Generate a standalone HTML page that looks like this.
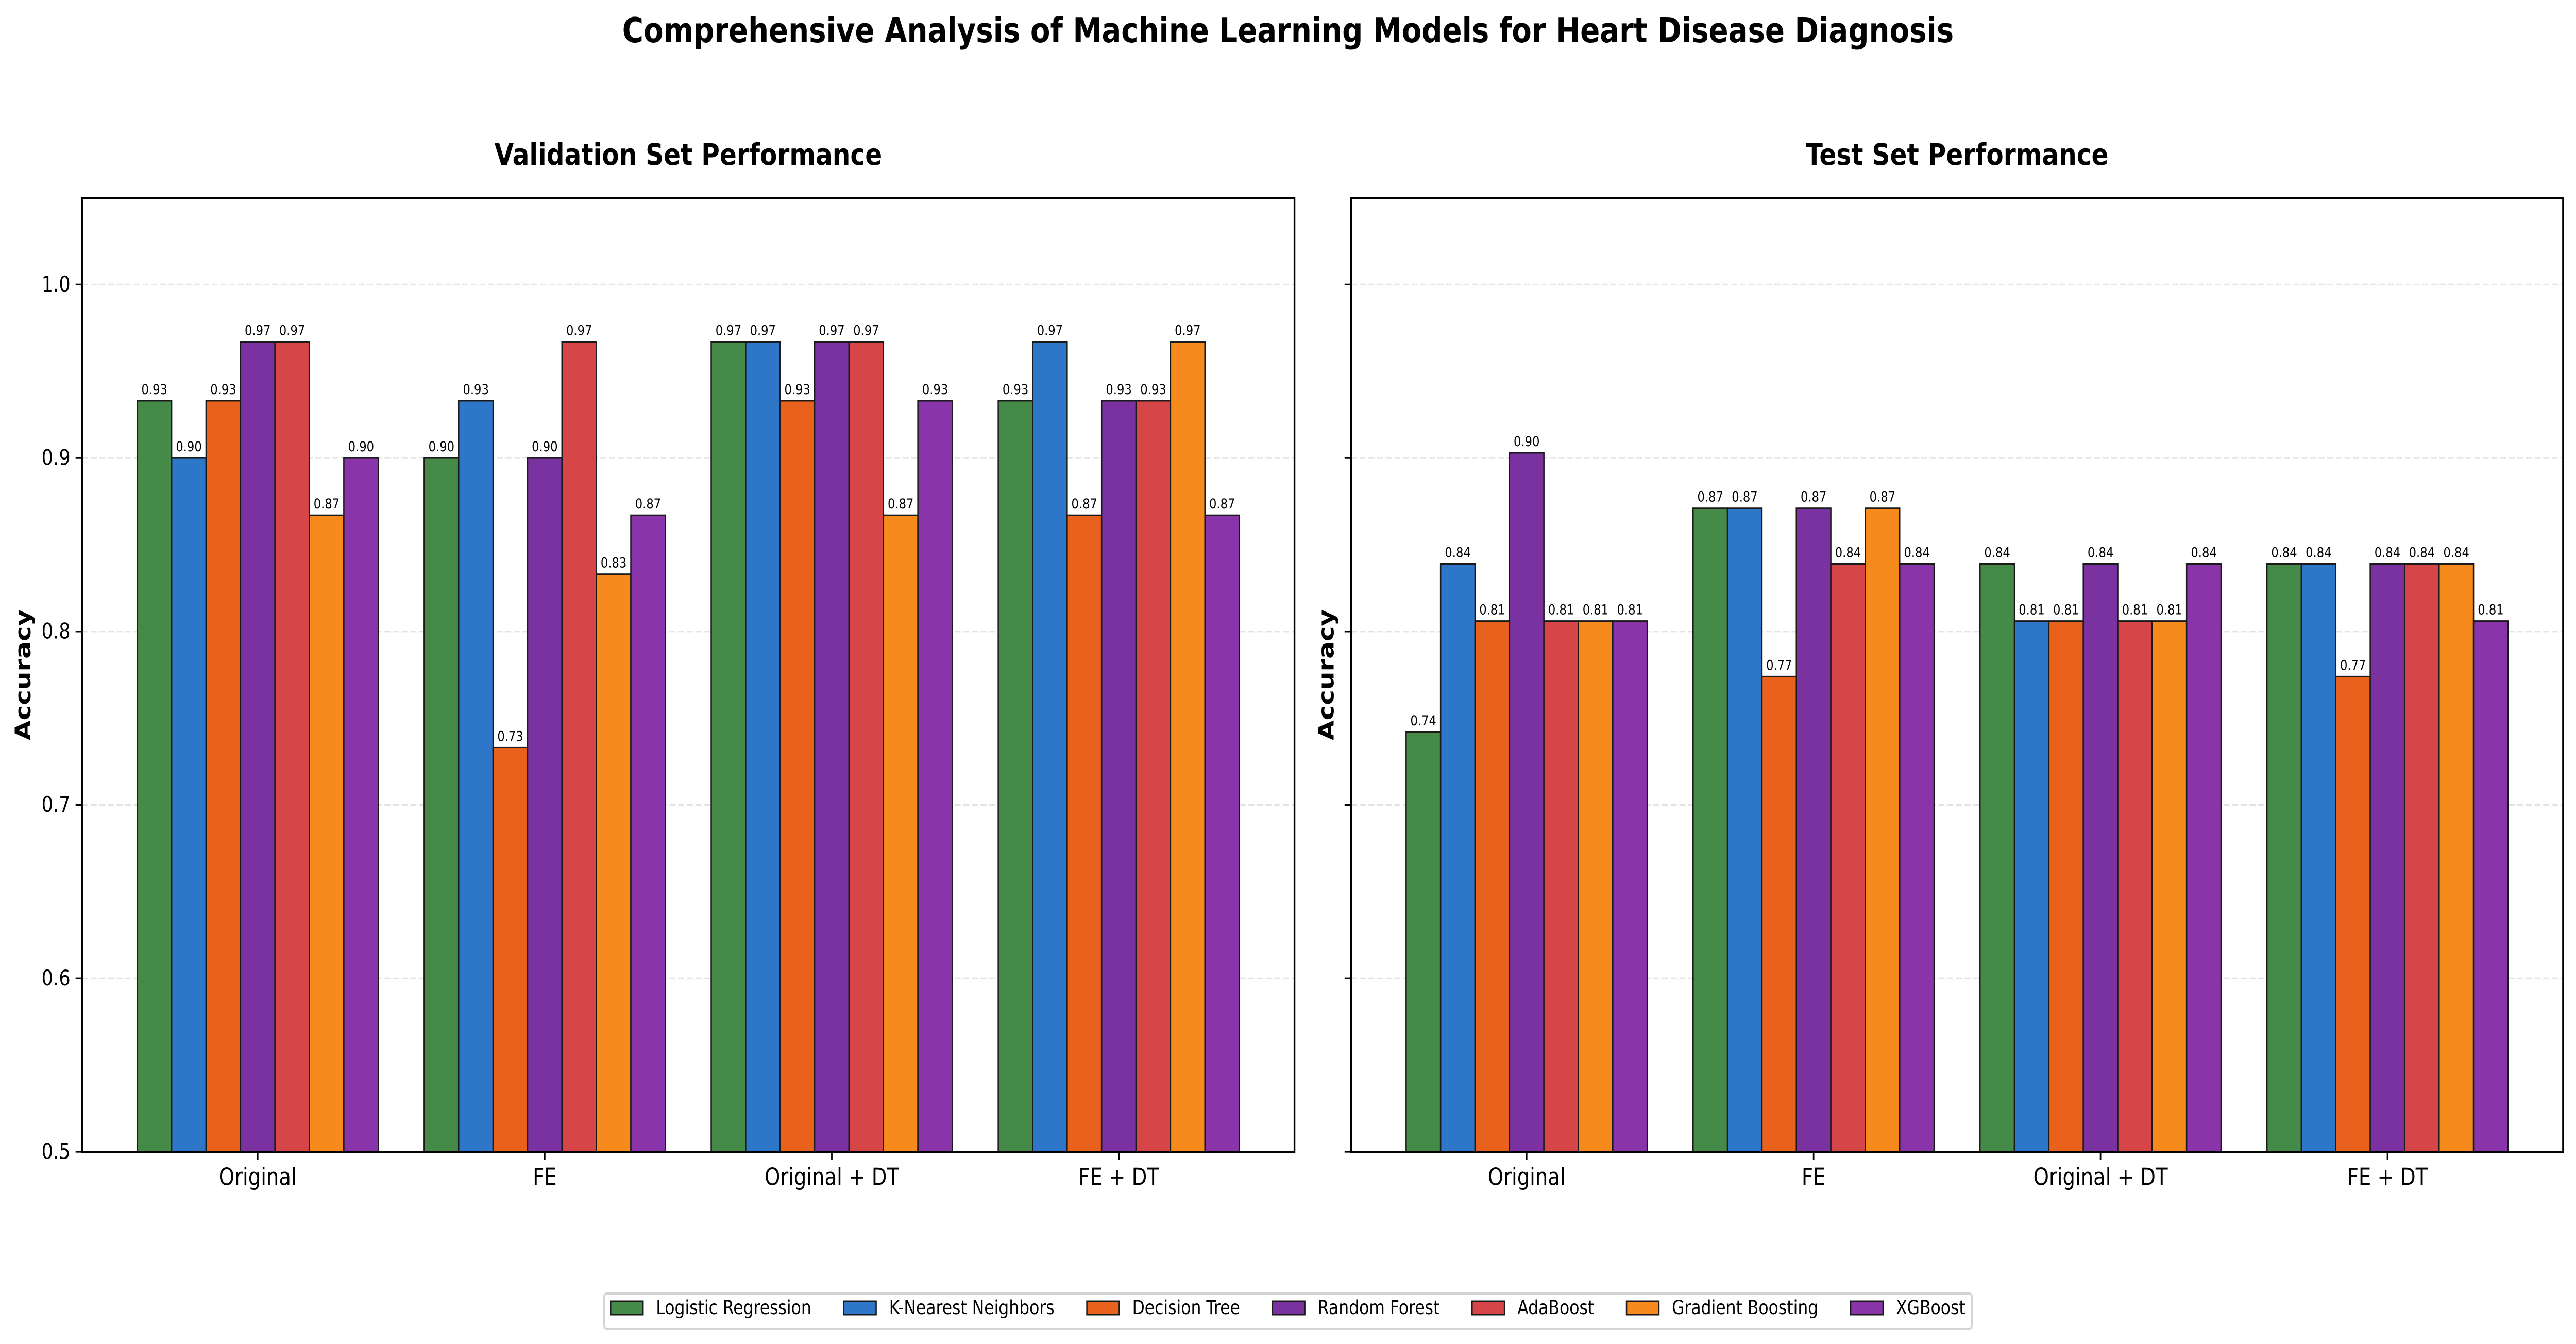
<!DOCTYPE html>
<html><head><meta charset="utf-8"><style>
html,body{margin:0;padding:0;background:#fff;width:100%;height:100%;overflow:hidden;}
svg{display:block;width:100vw;height:100vh;font-family:"DejaVu Sans","Liberation Sans",sans-serif;}
</style></head><body>
<svg id="fig" viewBox="0 0 5964 2609" preserveAspectRatio="none" xmlns="http://www.w3.org/2000/svg">
<rect width="5964" height="2609" fill="#fff"/>
<text x="2982" y="59" text-anchor="middle" dominant-baseline="central" font-size="67" font-weight="bold">Comprehensive Analysis of Machine Learning Models for Heart Disease Diagnosis</text>
<g id="panels"></g>
<g id="legend"></g>
</svg>
<script>
const categories = ["Original", "FE", "Original + DT", "FE + DT"];
const models = ["Logistic Regression","K-Nearest Neighbors","Decision Tree","Random Forest","AdaBoost","Gradient Boosting","XGBoost"];
const colors = ["#458a49","#2e76c7","#e8621e","#7a32a0","#d64548","#f78a1d","#8935a9"];
const yTicks = [0.5,0.6,0.7,0.8,0.9,1.0];
// validation values per model (across categories)
const valLR  = [0.933,0.900,0.967,0.933];
const valKNN = [0.900,0.933,0.967,0.967];
const valDT  = [0.933,0.733,0.933,0.867];
const valRF  = [0.967,0.900,0.967,0.933];
const valAda = [0.967,0.967,0.967,0.933];
const valGB  = [0.867,0.833,0.867,0.967];
const valXGB = [0.900,0.867,0.933,0.867];
// test values per model
const testLR  = [0.742,0.871,0.839,0.839];
const testKNN = [0.839,0.871,0.806,0.839];
const testDT  = [0.806,0.774,0.806,0.774];
const testRF  = [0.903,0.871,0.839,0.839];
const testAda = [0.806,0.839,0.806,0.839];
const testGB  = [0.806,0.871,0.806,0.839];
const testXGB = [0.806,0.839,0.839,0.806];

const NS = "http://www.w3.org/2000/svg";
function mk(tag, attrs, parent){const e=document.createElementNS(NS,tag);for(const k in attrs)e.setAttribute(k,attrs[k]);if(parent)parent.appendChild(e);return e;}

const yMin=0.5,yMax=1.05,plotTop=384,plotBottom=2236;
const xMin=-0.612,xMax=3.612;
const barW=0.12;
function yScale(v){return plotBottom-(v-yMin)/(yMax-yMin)*(plotBottom-plotTop);}

function panel(left,right,title,series,showLabels,key){
  const g=mk("g",{},document.getElementById("panels"));
  
  
  const xs=v=>left+(v-xMin)/(xMax-xMin)*(right-left);
  yTicks.forEach(t=>{
    const l=mk("line",{x1:left,x2:right,y1:yScale(t),y2:yScale(t),stroke:"#e3e3e3","stroke-width":3,"stroke-dasharray":"14 6"},g);
    
    
  });
  series.forEach((vals,m)=>{
    vals.forEach((v,c)=>{
      const x0=xs(c+(m-3)*barW-barW/2), x1=xs(c+(m-3)*barW+barW/2);
      const r=mk("rect",{x:x0,y:yScale(v),width:x1-x0,height:plotBottom-yScale(v),fill:colors[m],stroke:"#1a1a1a","stroke-width":3},g);
      
      
      const t=mk("text",{x:(x0+x1)/2,y:yScale(v)-13,"text-anchor":"middle","font-size":27},g);
      t.textContent=v.toFixed(2);
      
      
    });
  });
  const sp=mk("rect",{x:left,y:plotTop,width:right-left,height:plotBottom-plotTop,fill:"none",stroke:"#000","stroke-width":4},g);
  
  
  yTicks.forEach(t=>{
    const tk=mk("line",{x1:left-15,x2:left,y1:yScale(t),y2:yScale(t),stroke:"#000","stroke-width":3.3},g);
    
    
    if(showLabels){
      const tl=mk("text",{x:left-27,y:yScale(t),"text-anchor":"end","dominant-baseline":"central","font-size":42},g);
      tl.textContent=t.toFixed(1);
      
      
    }
  });
  categories.forEach((c,i)=>{
    const tk=mk("line",{x1:xs(i),x2:xs(i),y1:plotBottom,y2:plotBottom+15,stroke:"#000","stroke-width":3.3},g);
    
    
    const tl=mk("text",{x:xs(i),y:plotBottom+50,"text-anchor":"middle","dominant-baseline":"central","font-size":46},g);
    tl.textContent=c;
    
    
  });
  const tt=mk("text",{x:(left+right)/2,y:300,"text-anchor":"middle","dominant-baseline":"central","font-size":58,"font-weight":"bold"},g);
  tt.textContent=title;
  
  
  const lx=showLabels?53:left-58;
  const cyy=(plotTop+plotBottom)/2;
  const yl=mk("text",{x:lx,y:cyy,"text-anchor":"middle","dominant-baseline":"central","font-size":50,"font-weight":"bold",transform:`rotate(-90 ${lx} ${cyy})`},g);
  yl.textContent="Accuracy";
  
  
}
panel(190,2997,"Validation Set Performance",[valLR,valKNN,valDT,valRF,valAda,valGB,valXGB],true,"validation");
panel(3128,5934,"Test Set Performance",[testLR,testKNN,testDT,testRF,testAda,testGB,testXGB],false,"test");

(function(){
  const lg=document.getElementById("legend");
  const fs=37.5, cy=2545;
  const frame=mk("rect",{x:0,y:2511,width:10,height:68,fill:"#fff",stroke:"#d4d4d4","stroke-width":4,rx:6},lg);
  
  
  const items=[];
  models.forEach((m,i)=>{
    const ent=mk("g",{},lg);
    
    
    const p=mk("rect",{x:0,y:cy-19,width:75,height:26,fill:colors[i],stroke:"#1a1a1a","stroke-width":3},ent);
    
    
    const t=mk("text",{x:0,y:cy-6,"dominant-baseline":"central","font-size":fs},ent);
    t.textContent=m;
    
    
    items.push([p,t]);
  });
  const widths=items.map(([p,t])=>75+30+t.getComputedTextLength());
  const gap=75;
  const total=widths.reduce((a,b)=>a+b,0)+gap*(widths.length-1)+2*15;
  let cx=2982-total/2+15;
  items.forEach(([p,t],i)=>{p.setAttribute("x",cx);t.setAttribute("x",cx+105);cx+=widths[i]+gap;});
  frame.setAttribute("x",2982-total/2);
  frame.setAttribute("width",total);
})();
</script>
</body></html>
